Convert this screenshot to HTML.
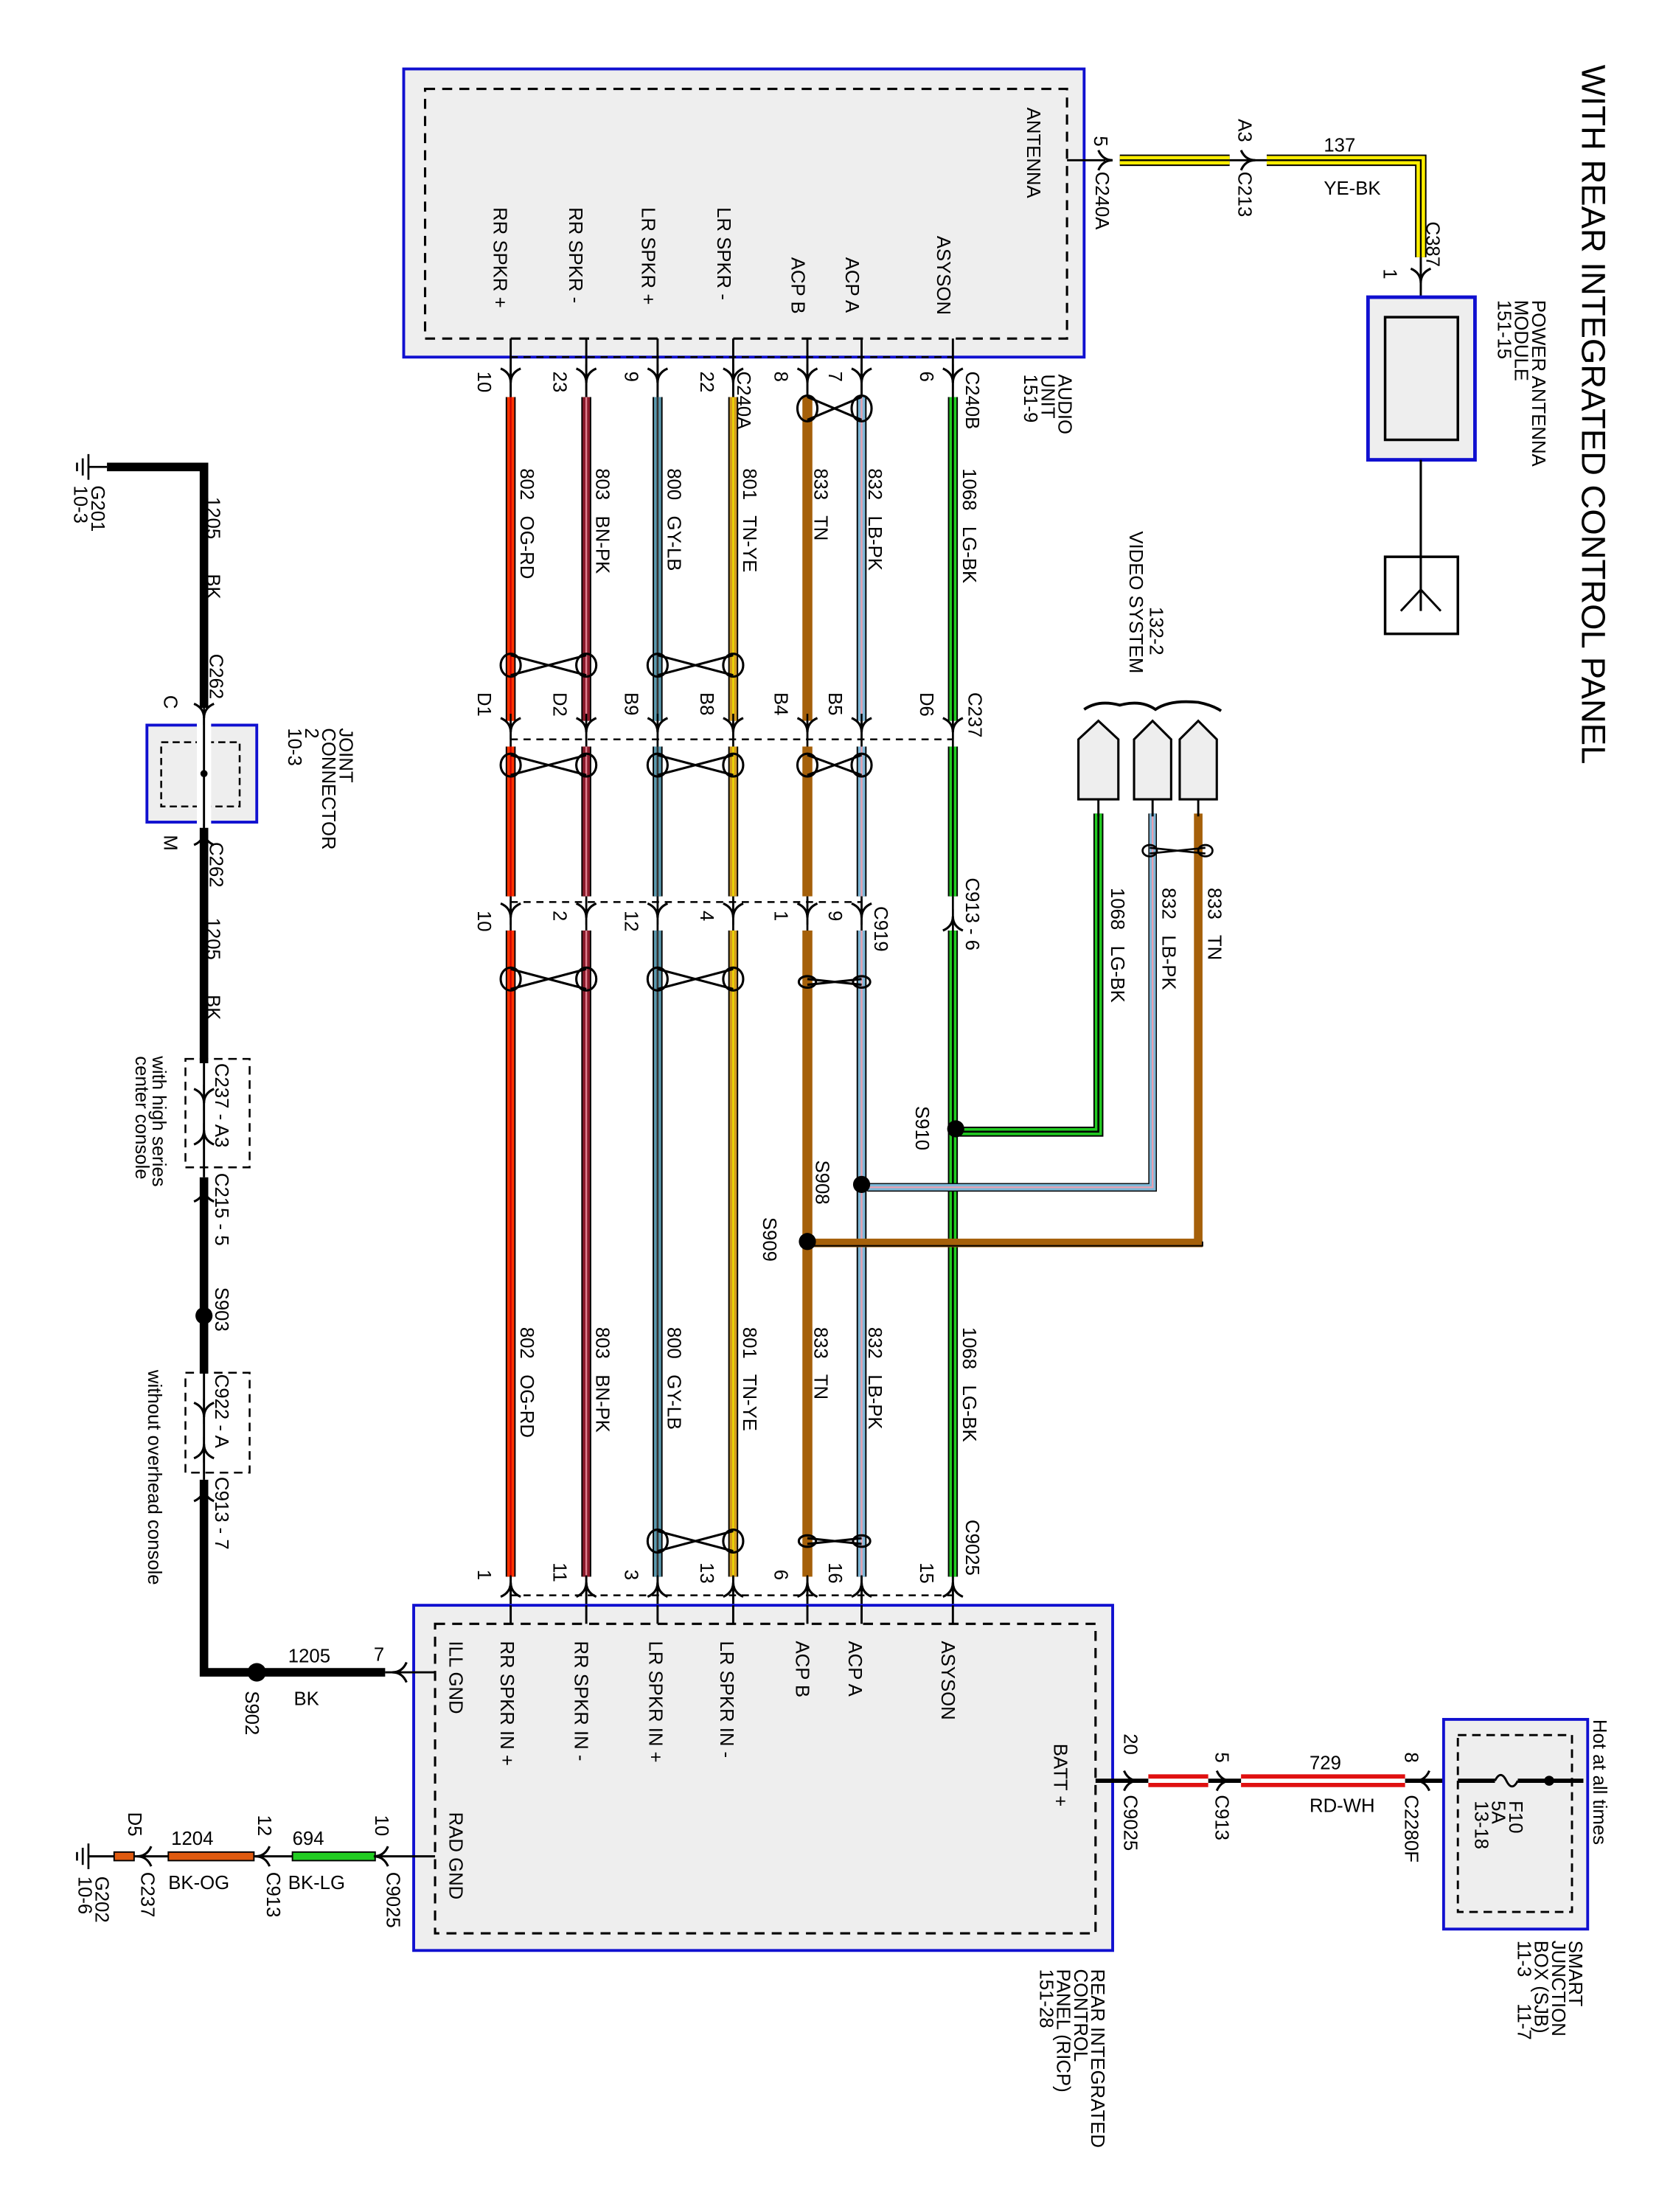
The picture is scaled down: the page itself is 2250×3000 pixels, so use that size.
<!DOCTYPE html>
<html><head><meta charset="utf-8"><style>
html,body{margin:0;padding:0;background:#fff}
svg{display:block}
text{font-family:"Liberation Sans",sans-serif;font-size:13.3px;fill:#000;white-space:pre}
</style></head><body>
<svg width="2250" height="3000" viewBox="0 0 1163 1550" xmlns="http://www.w3.org/2000/svg" xml:space="preserve">
<defs>
<g id="a"><path d="M-7,-7 Q0,-4 0,3 M7,-7 Q0,-4 0,3" fill="none" stroke="#000" stroke-width="1.6"/><line x1="0" y1="-10" x2="0" y2="8" stroke="#000" stroke-width="1.3"/></g>
<g id="au"><path d="M-7,7 Q0,4 0,-3 M7,7 Q0,4 0,-3" fill="none" stroke="#000" stroke-width="1.6"/><line x1="0" y1="-8" x2="0" y2="10" stroke="#000" stroke-width="1.3"/></g>
<g id="ar"><path d="M-7,-7 Q-4,0 3,0 M-7,7 Q-4,0 3,0" fill="none" stroke="#000" stroke-width="1.6"/></g>
<g id="al"><path d="M7,-7 Q4,0 -3,0 M7,7 Q4,0 -3,0" fill="none" stroke="#000" stroke-width="1.6"/></g>
</defs>
<rect width="1163" height="1550" fill="#fff"/>
<text transform="translate(1109,45) rotate(90)" style="font-size:23.5px">WITH REAR INTEGRATED CONTROL PANEL</text>
<rect x="283" y="48" width="477" height="202" fill="#eeeeee" stroke="#1010d0" stroke-width="2"/>
<rect x="298" y="62" width="450" height="175" fill="none" stroke="#000" stroke-width="1.6" stroke-dasharray="7,5"/>
<text transform="translate(720,75) rotate(90)">ANTENNA</text>
<text transform="translate(657,165) rotate(90)">ASYSON</text>
<text transform="translate(593,180) rotate(90)">ACP A</text>
<text transform="translate(555,180) rotate(90)">ACP B</text>
<text transform="translate(503,145) rotate(90)">LR SPKR -</text>
<text transform="translate(450,145) rotate(90)">LR SPKR +</text>
<text transform="translate(399,145) rotate(90)">RR SPKR -</text>
<text transform="translate(346,145) rotate(90)">RR SPKR +</text>
<g stroke="#000" stroke-width="1.5">
<line x1="358" y1="237" x2="358" y2="278"/><line x1="411" y1="237" x2="411" y2="278"/><line x1="461" y1="237" x2="461" y2="278"/><line x1="514" y1="237" x2="514" y2="278"/><line x1="566" y1="237" x2="566" y2="278"/><line x1="604" y1="237" x2="604" y2="278"/><line x1="668" y1="237" x2="668" y2="278"/>
</g>
<line x1="358" y1="250" x2="668" y2="250" stroke="#000" stroke-width="1.3" stroke-dasharray="5,4"/>
<use href="#a" x="358" y="265"/><use href="#a" x="411" y="265"/><use href="#a" x="461" y="265"/><use href="#a" x="514" y="265"/><use href="#a" x="566" y="265"/><use href="#a" x="604" y="265"/><use href="#a" x="668" y="265"/>
<text transform="translate(335,260) rotate(90)">10</text>
<text transform="translate(388,260) rotate(90)">23</text>
<text transform="translate(438,260) rotate(90)">9</text>
<text transform="translate(491,260) rotate(90)">22</text>
<text transform="translate(517,260) rotate(90)">C240A</text>
<text transform="translate(543,260) rotate(90)">8</text>
<text transform="translate(581,260) rotate(90)">7</text>
<text transform="translate(645,260) rotate(90)">6</text>
<text transform="translate(677,260) rotate(90)">C240B</text>
<text transform="translate(742,262) rotate(90)">AUDIO</text>
<text transform="translate(730,262) rotate(90)">UNIT</text>
<text transform="translate(718,262) rotate(90)">151-9</text>
<g fill="none">
<g><path d="M358,278V505M358,523V628M358,652V1105" stroke="#000" stroke-width="7"/><path d="M358,278V505M358,523V628M358,652V1105" stroke="#ff3300" stroke-width="5"/><path d="M358,278V505M358,523V628M358,652V1105" stroke="#cc0000" stroke-width="1.2"/></g>
<g><path d="M411,278V505M411,523V628M411,652V1105" stroke="#000" stroke-width="7"/><path d="M411,278V505M411,523V628M411,652V1105" stroke="#8b1a2a" stroke-width="5"/><path d="M411,278V505M411,523V628M411,652V1105" stroke="#e08090" stroke-width="1.2"/></g>
<g><path d="M461,278V505M461,523V628M461,652V1105" stroke="#000" stroke-width="7"/><path d="M461,278V505M461,523V628M461,652V1105" stroke="#5a9ab0" stroke-width="5"/><path d="M461,278V505M461,523V628M461,652V1105" stroke="#333" stroke-width="1.4"/></g>
<g><path d="M514,278V505M514,523V628M514,652V1105" stroke="#000" stroke-width="7"/><path d="M514,278V505M514,523V628M514,652V1105" stroke="#d49a20" stroke-width="5"/><path d="M514,278V505M514,523V628M514,652V1105" stroke="#eedd00" stroke-width="1.2"/></g>
<g><path d="M566,278V505M566,523V628M566,652V1105" stroke="#a5600a" stroke-width="7"/></g>
<g><path d="M604,278V505M604,523V628M604,652V1105" stroke="#000" stroke-width="7"/><path d="M604,278V505M604,523V628M604,652V1105" stroke="#7fb8d8" stroke-width="5"/><path d="M604,278V505M604,523V628M604,652V1105" stroke="#e8a0b0" stroke-width="1.2"/></g>
<g><path d="M668,278V505M668,523V628M668,652V1105" stroke="#000" stroke-width="7"/><path d="M668,278V505M668,523V628M668,652V1105" stroke="#22cc22" stroke-width="5"/><path d="M668,278V505M668,523V628M668,652V1105" stroke="#000" stroke-width="1.4"/></g>
</g>
<g fill="none">
<path d="M770,570V793H672" stroke="#000" stroke-width="7"/><path d="M770,570V793H672" stroke="#22cc22" stroke-width="5"/><path d="M770,570V793H672" stroke="#000" stroke-width="1.4"/>
<path d="M808,570V832H608" stroke="#000" stroke-width="6"/><path d="M808,570V832H608" stroke="#7fb8d8" stroke-width="4.5"/><path d="M808,570V832H608" stroke="#e8a0b0" stroke-width="1.2"/>
<path d="M840,570V871H570" stroke="#a5600a" stroke-width="6"/><path d="M843,870V873H570" stroke="#000" stroke-width="1"/>
</g>
<g stroke="#000" stroke-width="1.5"><line x1="770" y1="555" x2="770" y2="572"/><line x1="808" y1="555" x2="808" y2="572"/><line x1="840" y1="555" x2="840" y2="572"/></g>
<g fill="#eeeeee" stroke="#000" stroke-width="1.6">
<path d="M756,560V518L770,505L784,518V560Z"/>
<path d="M795,560V518L808,505L821,518V560Z"/>
<path d="M827,560V518L840,505L853,518V560Z"/>
</g>
<path d="M760,497 Q770,490 785,494 Q800,490 810,497 Q820,490 840,492 Q850,494 856,498" fill="none" stroke="#000" stroke-width="2"/>
<text transform="translate(792,372) rotate(90)">VIDEO SYSTEM</text>
<text transform="translate(806,425) rotate(90)">132-2</text>
<g fill="#000"><circle cx="670" cy="791" r="6"/><circle cx="604" cy="830" r="6"/><circle cx="566" cy="870" r="6"/></g>
<text transform="translate(779,622) rotate(90)">1068   LG-BK</text>
<text transform="translate(815,622) rotate(90)">832   LB-PK</text>
<text transform="translate(847,622) rotate(90)">833   TN</text>
<text transform="translate(642,775) rotate(90)">S910</text>
<text transform="translate(572,813) rotate(90)">S908</text>
<text transform="translate(535,853) rotate(90)">S909</text>
<g fill="none" stroke="#000" stroke-width="1.4"><ellipse cx="806" cy="596" rx="5" ry="4"/><ellipse cx="845" cy="596" rx="5" ry="4"/><path d="M806,594L845,598M806,598L845,594"/></g>
<text transform="translate(365,328) rotate(90)">802   OG-RD</text>
<text transform="translate(418,328) rotate(90)">803   BN-PK</text>
<text transform="translate(468,328) rotate(90)">800   GY-LB</text>
<text transform="translate(521,328) rotate(90)">801   TN-YE</text>
<text transform="translate(571,328) rotate(90)">833   TN</text>
<text transform="translate(609,328) rotate(90)">832   LB-PK</text>
<text transform="translate(675,328) rotate(90)">1068   LG-BK</text>
<text transform="translate(365,930) rotate(90)">802   OG-RD</text>
<text transform="translate(418,930) rotate(90)">803   BN-PK</text>
<text transform="translate(468,930) rotate(90)">800   GY-LB</text>
<text transform="translate(521,930) rotate(90)">801   TN-YE</text>
<text transform="translate(571,930) rotate(90)">833   TN</text>
<text transform="translate(609,930) rotate(90)">832   LB-PK</text>
<text transform="translate(675,930) rotate(90)">1068   LG-BK</text>
<line x1="358" y1="518" x2="668" y2="518" stroke="#000" stroke-width="1.3" stroke-dasharray="5,4"/>
<g stroke="#000" stroke-width="1.4"><path d="M358,505V523M411,505V523M461,505V523M514,505V523M566,505V523M604,505V523M668,505V523"/></g>
<use href="#a" x="358" y="510"/><use href="#a" x="411" y="510"/><use href="#a" x="461" y="510"/><use href="#a" x="514" y="510"/><use href="#a" x="566" y="510"/><use href="#a" x="604" y="510"/><use href="#a" x="668" y="510"/>
<text transform="translate(335,485) rotate(90)">D1</text>
<text transform="translate(388,485) rotate(90)">D2</text>
<text transform="translate(438,485) rotate(90)">B9</text>
<text transform="translate(491,485) rotate(90)">B8</text>
<text transform="translate(543,485) rotate(90)">B4</text>
<text transform="translate(581,485) rotate(90)">B5</text>
<text transform="translate(645,485) rotate(90)">D6</text>
<text transform="translate(679,485) rotate(90)">C237</text>
<line x1="358" y1="632" x2="604" y2="632" stroke="#000" stroke-width="1.3" stroke-dasharray="5,4"/>
<g stroke="#000" stroke-width="1.4"><path d="M358,628V652M411,628V652M461,628V652M514,628V652M566,628V652M604,628V652M668,628V652"/></g>
<use href="#a" x="358" y="640"/><use href="#a" x="411" y="640"/><use href="#a" x="461" y="640"/><use href="#a" x="514" y="640"/><use href="#a" x="566" y="640"/><use href="#a" x="604" y="640"/><use href="#au" x="668" y="645"/>
<text transform="translate(335,638) rotate(90)">10</text>
<text transform="translate(388,638) rotate(90)">2</text>
<text transform="translate(438,638) rotate(90)">12</text>
<text transform="translate(491,638) rotate(90)">4</text>
<text transform="translate(543,638) rotate(90)">1</text>
<text transform="translate(581,638) rotate(90)">9</text>
<text transform="translate(613,635) rotate(90)">C919</text>
<text transform="translate(677,615) rotate(90)">C913 - 6</text>
<g fill="none" stroke="#000" stroke-width="1.6">
<ellipse cx="566" cy="286" rx="7" ry="9"/><ellipse cx="604" cy="286" rx="7" ry="9"/><path d="M566,278L604,294M566,294L604,278"/>
<ellipse cx="358" cy="466" rx="7" ry="8"/><ellipse cx="411" cy="466" rx="7" ry="8"/><path d="M358,459L411,473M358,473L411,459"/>
<ellipse cx="461" cy="466" rx="7" ry="8"/><ellipse cx="514" cy="466" rx="7" ry="8"/><path d="M461,459L514,473M461,473L514,459"/>
<ellipse cx="358" cy="536" rx="7" ry="8"/><ellipse cx="411" cy="536" rx="7" ry="8"/><path d="M358,529L411,543M358,543L411,529"/>
<ellipse cx="461" cy="536" rx="7" ry="8"/><ellipse cx="514" cy="536" rx="7" ry="8"/><path d="M461,529L514,543M461,543L514,529"/>
<ellipse cx="566" cy="536" rx="7" ry="8"/><ellipse cx="604" cy="536" rx="7" ry="8"/><path d="M566,529L604,543M566,543L604,529"/>
<ellipse cx="358" cy="686" rx="7" ry="8"/><ellipse cx="411" cy="686" rx="7" ry="8"/><path d="M358,679L411,693M358,693L411,679"/>
<ellipse cx="461" cy="686" rx="7" ry="8"/><ellipse cx="514" cy="686" rx="7" ry="8"/><path d="M461,679L514,693M461,693L514,679"/>
<ellipse cx="566" cy="688" rx="6" ry="4"/><ellipse cx="604" cy="688" rx="6" ry="4"/><path d="M566,686L604,690M566,690L604,686"/>
<ellipse cx="461" cy="1080" rx="7" ry="8"/><ellipse cx="514" cy="1080" rx="7" ry="8"/><path d="M461,1073L514,1087M461,1087L514,1073"/>
<ellipse cx="566" cy="1080" rx="6" ry="4"/><ellipse cx="604" cy="1080" rx="6" ry="4"/><path d="M566,1078L604,1082M566,1082L604,1078"/>
</g>
<line x1="358" y1="1118" x2="668" y2="1118" stroke="#000" stroke-width="1.3" stroke-dasharray="5,4"/>
<g stroke="#000" stroke-width="1.5"><path d="M358,1105V1140M411,1105V1140M461,1105V1140M514,1105V1140M566,1105V1140M604,1105V1140M668,1105V1140"/></g>
<use href="#au" x="358" y="1112"/><use href="#au" x="411" y="1112"/><use href="#au" x="461" y="1112"/><use href="#au" x="514" y="1112"/><use href="#au" x="566" y="1112"/><use href="#au" x="604" y="1112"/><use href="#au" x="668" y="1112"/>
<text transform="translate(335,1100) rotate(90)">1</text>
<text transform="translate(388,1095) rotate(90)">11</text>
<text transform="translate(438,1100) rotate(90)">3</text>
<text transform="translate(491,1095) rotate(90)">13</text>
<text transform="translate(543,1100) rotate(90)">6</text>
<text transform="translate(581,1095) rotate(90)">16</text>
<text transform="translate(645,1095) rotate(90)">15</text>
<text transform="translate(677,1065) rotate(90)">C9025</text>
<rect x="290" y="1125" width="490" height="242" fill="#eeeeee" stroke="#1010d0" stroke-width="2"/>
<rect x="305" y="1138" width="463" height="217" fill="none" stroke="#000" stroke-width="1.6" stroke-dasharray="7,5"/>
<g stroke="#000" stroke-width="1.5"><path d="M358,1125V1138M411,1125V1138M461,1125V1138M514,1125V1138M566,1125V1138M604,1125V1138M668,1125V1138"/></g>
<text transform="translate(315,1150) rotate(90)">ILL GND</text>
<text transform="translate(351,1150) rotate(90)">RR SPKR IN +</text>
<text transform="translate(403,1150) rotate(90)">RR SPKR IN -</text>
<text transform="translate(455,1150) rotate(90)">LR SPKR IN +</text>
<text transform="translate(505,1150) rotate(90)">LR SPKR IN -</text>
<text transform="translate(558,1150) rotate(90)">ACP B</text>
<text transform="translate(595,1150) rotate(90)">ACP A</text>
<text transform="translate(660,1150) rotate(90)">ASYSON</text>
<text transform="translate(739,1222) rotate(90)">BATT +</text>
<text transform="translate(315,1270) rotate(90)">RAD GND</text>
<text transform="translate(765,1380) rotate(90)">REAR INTEGRATED</text>
<text transform="translate(753,1380) rotate(90)">CONTROL</text>
<text transform="translate(741,1380) rotate(90)">PANEL (RICP)</text>
<text transform="translate(729,1380) rotate(90)">151-28</text>
<path d="M75,327H143V1172H270" fill="none" stroke="#000" stroke-width="6"/>
<line x1="270" y1="1172" x2="305" y2="1172" stroke="#000" stroke-width="1.5"/>
<use href="#al" x="278" y="1172"/>
<text x="262" y="1164">7</text>
<circle cx="180" cy="1172" r="6.5" fill="#000"/>
<text x="202" y="1165">1205</text><text x="206" y="1195">BK</text>
<text transform="translate(172,1185) rotate(90)">S902</text>
<g stroke="#000" stroke-width="1.4"><line x1="62" y1="318" x2="62" y2="336"/><line x1="58" y1="321" x2="58" y2="333"/><line x1="54" y1="324" x2="54" y2="330"/><line x1="62" y1="327" x2="75" y2="327"/></g>
<text transform="translate(64,340) rotate(90)">G201</text>
<text transform="translate(52,340) rotate(90)">10-3</text>
<text transform="translate(145,348) rotate(90)">1205</text>
<text transform="translate(145,402) rotate(90)">BK</text>
<text transform="translate(147,458) rotate(90)">C262</text>
<text transform="translate(115,487) rotate(90)">C</text>
<rect x="103" y="508" width="77" height="68" fill="#eeeeee" stroke="#1010d0" stroke-width="2"/>
<rect x="113" y="520" width="55" height="45" fill="none" stroke="#000" stroke-width="1.3" stroke-dasharray="5,3"/>
<rect x="138" y="496" width="10" height="84" fill="#fff"/>
<line x1="143" y1="500" x2="143" y2="580" stroke="#000" stroke-width="1.5"/>
<circle cx="143" cy="542" r="2.5" fill="#000"/>
<use href="#a" x="143" y="500"/><use href="#au" x="143" y="585"/>
<text transform="translate(238,510) rotate(90)">JOINT</text>
<text transform="translate(226,510) rotate(90)">CONNECTOR</text>
<text transform="translate(214,510) rotate(90)">2</text>
<text transform="translate(202,510) rotate(90)">10-3</text>
<text transform="translate(115,585) rotate(90)">M</text>
<text transform="translate(147,590) rotate(90)">C262</text>
<text transform="translate(145,643) rotate(90)">1205</text>
<text transform="translate(145,697) rotate(90)">BK</text>
<rect x="138" y="745" width="10" height="80" fill="#fff"/>
<line x1="143" y1="745" x2="143" y2="825" stroke="#000" stroke-width="1.5"/>
<rect x="130" y="742" width="45" height="76" fill="none" stroke="#000" stroke-width="1.3" stroke-dasharray="6,4"/>
<use href="#a" x="143" y="770"/><use href="#au" x="143" y="795"/><use href="#au" x="143" y="835"/>
<text transform="translate(151,745) rotate(90)">C237 - A3</text>
<text transform="translate(151,822) rotate(90)">C215 - 5</text>
<text transform="translate(107,740) rotate(90)">with high series</text>
<text transform="translate(95,740) rotate(90)">center console</text>
<circle cx="143" cy="922" r="6" fill="#000"/>
<text transform="translate(151,902) rotate(90)">S903</text>
<rect x="138" y="962" width="10" height="75" fill="#fff"/>
<line x1="143" y1="962" x2="143" y2="1037" stroke="#000" stroke-width="1.5"/>
<rect x="130" y="962" width="45" height="70" fill="none" stroke="#000" stroke-width="1.3" stroke-dasharray="6,4"/>
<use href="#a" x="143" y="990"/><use href="#au" x="143" y="1015"/><use href="#au" x="143" y="1045"/>
<text transform="translate(151,963) rotate(90)">C922 - A</text>
<text transform="translate(151,1035) rotate(90)">C913 - 7</text>
<text transform="translate(104,960) rotate(90)">without overhead console</text>
<line x1="62" y1="1301" x2="305" y2="1301" stroke="#000" stroke-width="1.5"/>
<rect x="205" y="1298" width="58" height="6" fill="#22cc22" stroke="#000" stroke-width="1"/>
<rect x="118" y="1298" width="60" height="6" fill="#e05a10" stroke="#000" stroke-width="1"/>
<rect x="80" y="1298" width="14" height="6" fill="#e05a10" stroke="#000" stroke-width="1"/>
<use href="#al" x="265" y="1301"/><use href="#al" x="182" y="1301"/><use href="#al" x="99" y="1301"/>
<text x="205" y="1293">694</text><text x="202" y="1324">BK-LG</text>
<text x="120" y="1293">1204</text><text x="118" y="1324">BK-OG</text>
<text transform="translate(263,1272) rotate(90)">10</text>
<text transform="translate(271,1312) rotate(90)">C9025</text>
<text transform="translate(181,1272) rotate(90)">12</text>
<text transform="translate(187,1312) rotate(90)">C913</text>
<text transform="translate(90,1270) rotate(90)">D5</text>
<text transform="translate(99,1312) rotate(90)">C237</text>
<g stroke="#000" stroke-width="1.4"><line x1="62" y1="1292" x2="62" y2="1310"/><line x1="58" y1="1295" x2="58" y2="1307"/><line x1="54" y1="1298" x2="54" y2="1304"/></g>
<text transform="translate(67,1315) rotate(90)">G202</text>
<text transform="translate(55,1315) rotate(90)">10-6</text>
<line x1="768" y1="1248" x2="1110" y2="1248" stroke="#000" stroke-width="3"/>
<rect x="805" y="1244" width="42" height="8" fill="#fff"/><line x1="805" y1="1245" x2="847" y2="1245" stroke="#e01010" stroke-width="3"/><line x1="805" y1="1251" x2="847" y2="1251" stroke="#e01010" stroke-width="3"/>
<rect x="870" y="1244" width="115" height="8" fill="#fff"/><line x1="870" y1="1245" x2="985" y2="1245" stroke="#e01010" stroke-width="3"/><line x1="870" y1="1251" x2="985" y2="1251" stroke="#e01010" stroke-width="3"/>
<use href="#ar" x="795" y="1248"/><use href="#ar" x="860" y="1248"/><use href="#al" x="995" y="1248"/>
<text transform="translate(788,1215) rotate(90)">20</text>
<text transform="translate(788,1258) rotate(90)">C9025</text>
<text transform="translate(852,1228) rotate(90)">5</text>
<text transform="translate(852,1258) rotate(90)">C913</text>
<text x="918" y="1240">729</text><text x="918" y="1270">RD-WH</text>
<text transform="translate(985,1228) rotate(90)">8</text>
<text transform="translate(985,1258) rotate(90)">C2280F</text>
<rect x="1012" y="1205" width="101" height="147" fill="#eeeeee" stroke="#1010d0" stroke-width="2"/>
<rect x="1022" y="1216" width="80" height="124" fill="none" stroke="#000" stroke-width="1.5" stroke-dasharray="6,4"/>
<rect x="1040" y="1243" width="50" height="10" fill="#eeeeee"/>
<line x1="1022" y1="1248" x2="1048" y2="1248" stroke="#000" stroke-width="3"/>
<path d="M1048,1248 q4,-8 8,0 q4,8 8,0" fill="none" stroke="#000" stroke-width="1.5"/>
<line x1="1064" y1="1248" x2="1110" y2="1248" stroke="#000" stroke-width="3"/>
<circle cx="1086" cy="1248" r="3.5" fill="#000"/>
<text transform="translate(1058,1262) rotate(90)">F10</text>
<text transform="translate(1046,1262) rotate(90)">5A</text>
<text transform="translate(1034,1262) rotate(90)">13-18</text>
<text transform="translate(1117,1205) rotate(90)">Hot at all times</text>
<text transform="translate(1100,1360) rotate(90)">SMART</text>
<text transform="translate(1088,1360) rotate(90)">JUNCTION</text>
<text transform="translate(1076,1360) rotate(90)">BOX (SJB)</text>
<text transform="translate(1064,1360) rotate(90)">11-3     11-7</text>
<line x1="748" y1="112" x2="775" y2="112" stroke="#000" stroke-width="1.5"/>
<g fill="none">
<path d="M785,112H862" stroke="#000" stroke-width="8"/><path d="M785,112H862" stroke="#ffee00" stroke-width="6"/><path d="M785,112H862" stroke="#000" stroke-width="1.2"/>
<path d="M888,112H996V180" stroke="#000" stroke-width="8"/><path d="M888,112H996V180" stroke="#ffee00" stroke-width="6"/><path d="M888,112H996V180" stroke="#000" stroke-width="1.2"/>
</g>
<line x1="862" y1="112" x2="888" y2="112" stroke="#000" stroke-width="1.5"/>
<use href="#ar" x="777" y="112"/><use href="#ar" x="877" y="112"/>
<text transform="translate(767,95) rotate(90)">5</text>
<text transform="translate(768,120) rotate(90)">C240A</text>
<text transform="translate(868,83) rotate(90)">A3</text>
<text transform="translate(868,120) rotate(90)">C213</text>
<text x="928" y="106">137</text><text x="928" y="136">YE-BK</text>
<text transform="translate(1000,155) rotate(90)">C387</text>
<text transform="translate(970,188) rotate(90)">1</text>
<line x1="996" y1="180" x2="996" y2="222" stroke="#000" stroke-width="1.5"/>
<use href="#a" x="996" y="195"/>
<rect x="959" y="208" width="75" height="114" fill="#eeeeee" stroke="#1010d0" stroke-width="2.5"/>
<rect x="971" y="222" width="51" height="86" fill="#eeeeee" stroke="#000" stroke-width="1.8"/>
<text transform="translate(1074,210) rotate(90)">POWER ANTENNA</text>
<text transform="translate(1062,210) rotate(90)">MODULE</text>
<text transform="translate(1050,210) rotate(90)">151-15</text>
<rect x="971" y="390" width="51" height="54" fill="#fff" stroke="#000" stroke-width="1.8"/>
<line x1="996" y1="322" x2="996" y2="428" stroke="#000" stroke-width="1.6"/>
<path d="M982,428L996,413L1010,428" fill="none" stroke="#000" stroke-width="1.5"/>
</svg>
</body></html>
